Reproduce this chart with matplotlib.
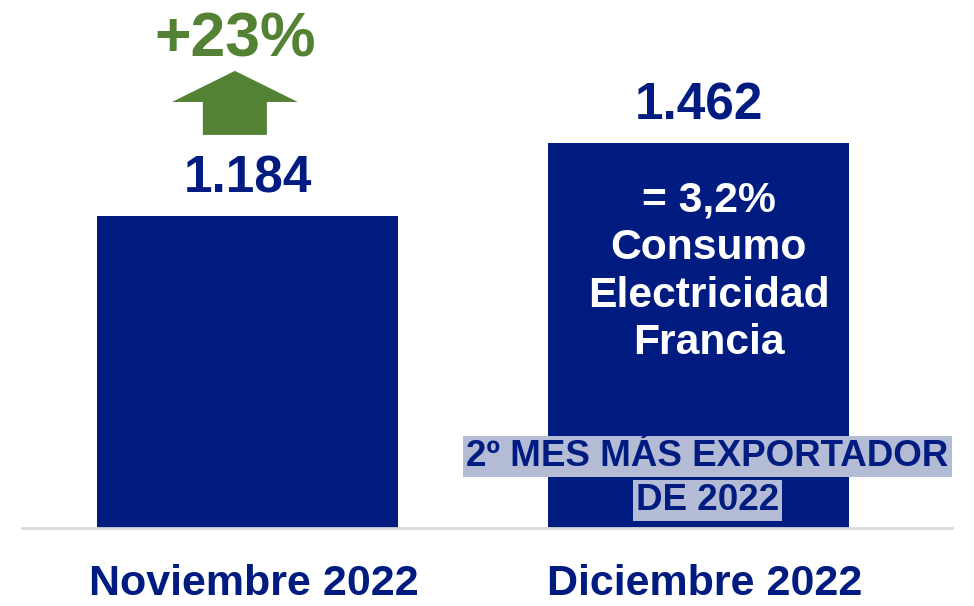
import numpy as np
import matplotlib.pyplot as plt
from matplotlib.patches import FancyArrow

# data
months = ["Noviembre 2022", "Diciembre 2022"]
exports = [1184, 1462]
note_inside = ["= 3,2%", "Consumo", "Electricidad", "Francia"]
badge_lines = ["2º MES MÁS EXPORTADOR", "DE 2022"]

NAVY = "#001C80"
GREEN = "#548235"
BADGE = "#B4BBD5"

plt.rcParams["font.family"] = ["Liberation Sans", "DejaVu Sans"]

fig = plt.figure(figsize=(9.74, 6.06), dpi=100)
ax = fig.add_axes([22 / 974, 78 / 606, 930 / 974, 528 / 606])

x = np.arange(len(months))
ax.bar(x, exports, width=0.667, color=NAVY, zorder=2)
ax.set_xlim(-0.5, 1.562)
ax.set_ylim(0, 2004)

# value labels, spanish thousand separator
for xi, v in zip(x, exports):
    ax.text(xi, v + 139, f"{v:,}".replace(",", "."), ha="center", va="center",
            fontsize=37, fontweight="bold", color=NAVY)

# growth arrow over november
growth = (exports[1] / exports[0] - 1) * 100
ax_x = x[0] - 0.028
ax.add_patch(FancyArrow(ax_x, exports[0] + 308, 0, 243, width=0.142,
                        head_width=0.279, head_length=118,
                        length_includes_head=True, color=GREEN, lw=0))
ax.text(ax_x, exports[0] + 670, f"+{growth:.0f}%", ha="center", va="center",
        fontsize=45, fontweight="bold", color=GREEN)

# text inside december bar
ax.text(x[1] + 0.022, 972, "\n".join(note_inside), ha="center", va="center",
        fontsize=30.7, fontweight="bold", color="white", linespacing=1.24)

# highlighted badge
for line, yy in zip(badge_lines, [272, 105]):
    ax.text(x[1] + 0.02, yy, line, ha="center", va="center", fontsize=26.5,
            fontweight="bold", color=NAVY, zorder=3,
            bbox=dict(boxstyle="square,pad=0.08", fc=BADGE, ec="none"))

# category labels sit slightly right of the bar centres
ax.set_xticks(x + 0.014)
ax.set_xticklabels(months, fontsize=31, fontweight="bold", color=NAVY)
ax.tick_params(axis="x", length=0, pad=26)
ax.set_yticks([])
for s in ["top", "right", "left"]:
    ax.spines[s].set_visible(False)
ax.spines["bottom"].set_color("#D9D9D9")
ax.spines["bottom"].set_linewidth(2)

fig.savefig("out.png", dpi=100)
